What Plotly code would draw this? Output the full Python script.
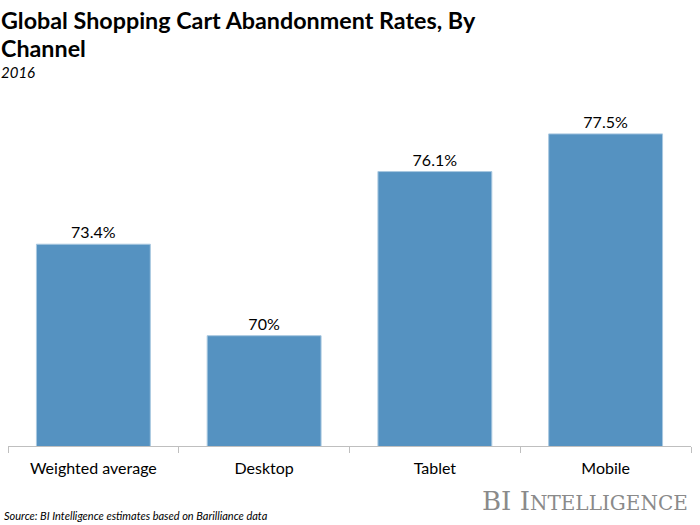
import plotly.graph_objects as go

categories = ["Weighted average", "Desktop", "Tablet", "Mobile"]
values = [73.4, 70.0, 76.1, 77.5]
labels = ["73.4%", "70%", "76.1%", "77.5%"]

fig = go.Figure(go.Bar(
    x=categories, y=values, text=labels, textposition="outside",
    marker=dict(color="#5592C1", line=dict(color="#A9C8E0", width=1)),
    width=0.667, cliponaxis=False,
    textfont=dict(family="Lato", size=16, color="#000000"),
))

def txt(text, x, y, xa, ya, xs, ys, fam, size, color="#000000"):
    return dict(text=text, xref="paper", yref="paper", x=x, y=y, xanchor=xa,
                yanchor=ya, xshift=xs, yshift=ys, showarrow=False, align="left",
                font=dict(family=fam, size=size, color=color))

fig.update_layout(
    width=700, height=525,
    margin=dict(l=8, r=9, t=100, b=79),
    paper_bgcolor="white", plot_bgcolor="white",
    showlegend=False,
    font=dict(family="Lato", color="#000000"),
    xaxis=dict(showline=True, linecolor="#BFBFBF", linewidth=1,
               ticks="outside", tickson="boundaries", ticklen=6, tickcolor="#BFBFBF",
               ticklabelstandoff=8,
               tickfont=dict(family="Lato", size=16, color="#000000"), showgrid=False),
    yaxis=dict(range=[65.9, 78.76], visible=False, showgrid=False),
    annotations=[
        txt("<b>Global Shopping Cart Abandonment Rates, By</b>", 0, 1, "left", "middle", -9, 80, "Lato", 23.3),
        txt("<b>Channel</b>", 0, 1, "left", "middle", -9, 52, "Lato", 23.3),
        txt("<i>2016</i>", 0, 1, "left", "middle", -9, 28, "Lato", 15),
        txt("<i>Source: BI Intelligence estimates based on Barilliance data</i>", 0, 0,
            "left", "middle", -6, -69, "Lato", 11),
        txt("BI I<span style='font-size:20px'>NTELLIGENCE</span>", 1, 0, "right", "middle",
            -1, -55, "DejaVu Serif", 26, "#8A8A8A"),
    ],
)
fig.write_html("out.html", config={"displayModeBar": False},
               post_script="document.body.style.margin='0';")
